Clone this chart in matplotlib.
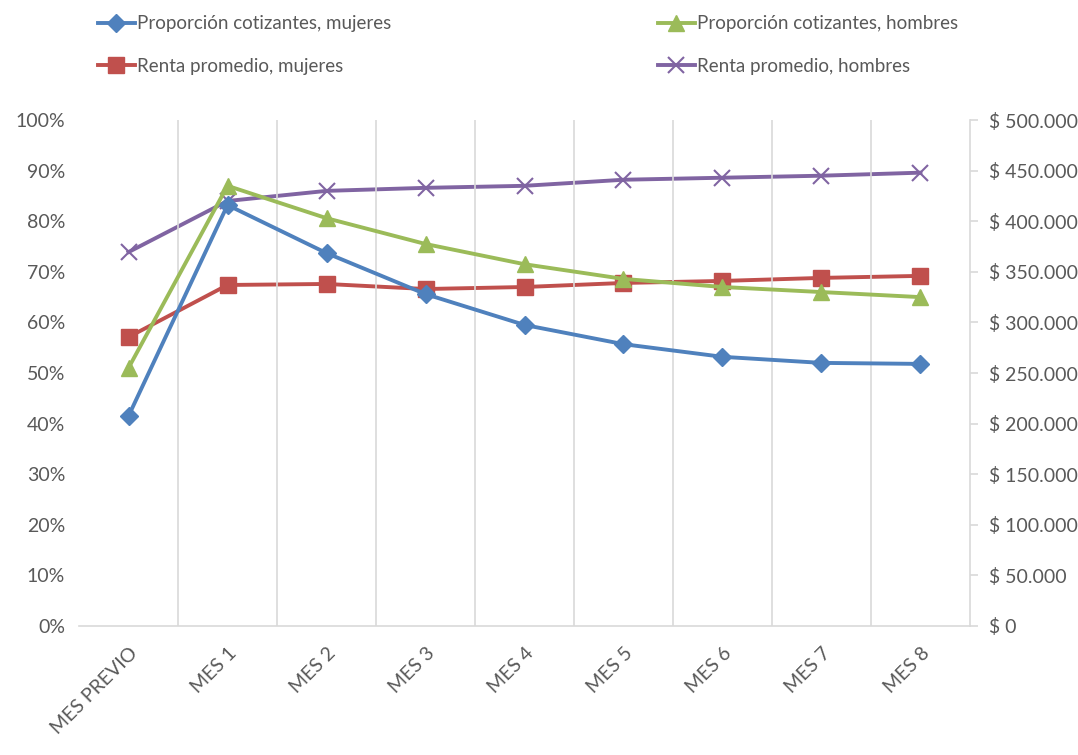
import matplotlib.pyplot as plt
import matplotlib.ticker as mticker

plt.rcParams['font.family'] = ['Lato', 'DejaVu Sans']

# Data
meses = ['MES PREVIO', 'MES 1', 'MES 2', 'MES 3', 'MES 4', 'MES 5', 'MES 6', 'MES 7', 'MES 8']
prop_mujeres = [0.415, 0.832, 0.737, 0.656, 0.595, 0.557, 0.532, 0.520, 0.518]
prop_hombres = [0.510, 0.870, 0.806, 0.755, 0.715, 0.686, 0.670, 0.660, 0.650]
renta_mujeres = [285500, 337000, 338000, 333000, 335000, 339000, 341000, 344000, 346000]
renta_hombres = [369500, 420000, 430000, 433000, 435000, 441000, 443000, 445000, 448000]

blue = '#4F81BD'
red = '#C0504D'
green = '#9BBB59'
purple = '#8064A2'
txt = '#595959'

fig = plt.figure(figsize=(10.78, 7.55), dpi=100)
ax = fig.add_axes([0.0733, 0.1709, 0.8265, 0.6701])
ax2 = ax.twinx()

x = list(range(len(meses)))
lw = 2.8
l1, = ax.plot(x, prop_mujeres, color=blue, lw=lw, marker='D', ms=9, label='Proporción cotizantes, mujeres')
l2, = ax.plot(x, prop_hombres, color=green, lw=lw, marker='^', ms=11, label='Proporción cotizantes, hombres')
l3, = ax2.plot(x, renta_mujeres, color=red, lw=lw, marker='s', ms=11, label='Renta promedio, mujeres')
l4, = ax2.plot(x, renta_hombres, color=purple, lw=lw, marker='x', ms=11, mew=1.5, label='Renta promedio, hombres')

ax.set_xlim(-0.5, len(meses) - 0.5)
ax.set_ylim(0, 1)
ax2.set_ylim(0, 500000)

# vertical gridlines between categories
for b in range(1, len(meses)):
    ax.axvline(b - 0.5, color='#D9D9D9', lw=1.2, zorder=0)

ax.set_yticks([i / 10 for i in range(11)])
ax.yaxis.set_major_formatter(mticker.FuncFormatter(lambda v, p: f'{v * 100:.0f}%'))
ax2.set_yticks(range(0, 500001, 50000))
ax2.yaxis.set_major_formatter(mticker.FuncFormatter(
    lambda v, p: '$ ' + f'{int(v):,}'.replace(',', '.')))

ax.set_xticks(x)
ax.set_xticklabels(meses, rotation=45, ha='right', rotation_mode='anchor')

for a in (ax, ax2):
    for s in a.spines.values():
        s.set_visible(False)
ax.spines['bottom'].set_visible(True)
ax.spines['bottom'].set_color('#D9D9D9')
ax.spines['bottom'].set_linewidth(1.2)
ax2.spines['right'].set_visible(True)
ax2.spines['right'].set_color('#D9D9D9')
ax2.spines['right'].set_linewidth(1.2)

ax.tick_params(axis='y', length=0, labelsize=14, labelcolor=txt, pad=10)
ax.tick_params(axis='x', length=0, labelsize=14, labelcolor=txt, pad=13)
ax2.tick_params(axis='y', length=6, color='#D9D9D9', width=1.2, labelsize=14, labelcolor=txt, pad=8)

ax.set_zorder(ax2.get_zorder() + 1)
ax.patch.set_visible(False)

leg = fig.legend([l1, l3, l2, l4], [l.get_label() for l in (l1, l3, l2, l4)],
                 ncol=2, loc='upper left', bbox_to_anchor=(0.075, 1.002),
                 frameon=False, fontsize=13.5, handlelength=2.0, handletextpad=0.1,
                 columnspacing=14.2, labelspacing=1.35)
for t in leg.get_texts():
    t.set_color(txt)

fig.savefig('out.png', dpi=100)
